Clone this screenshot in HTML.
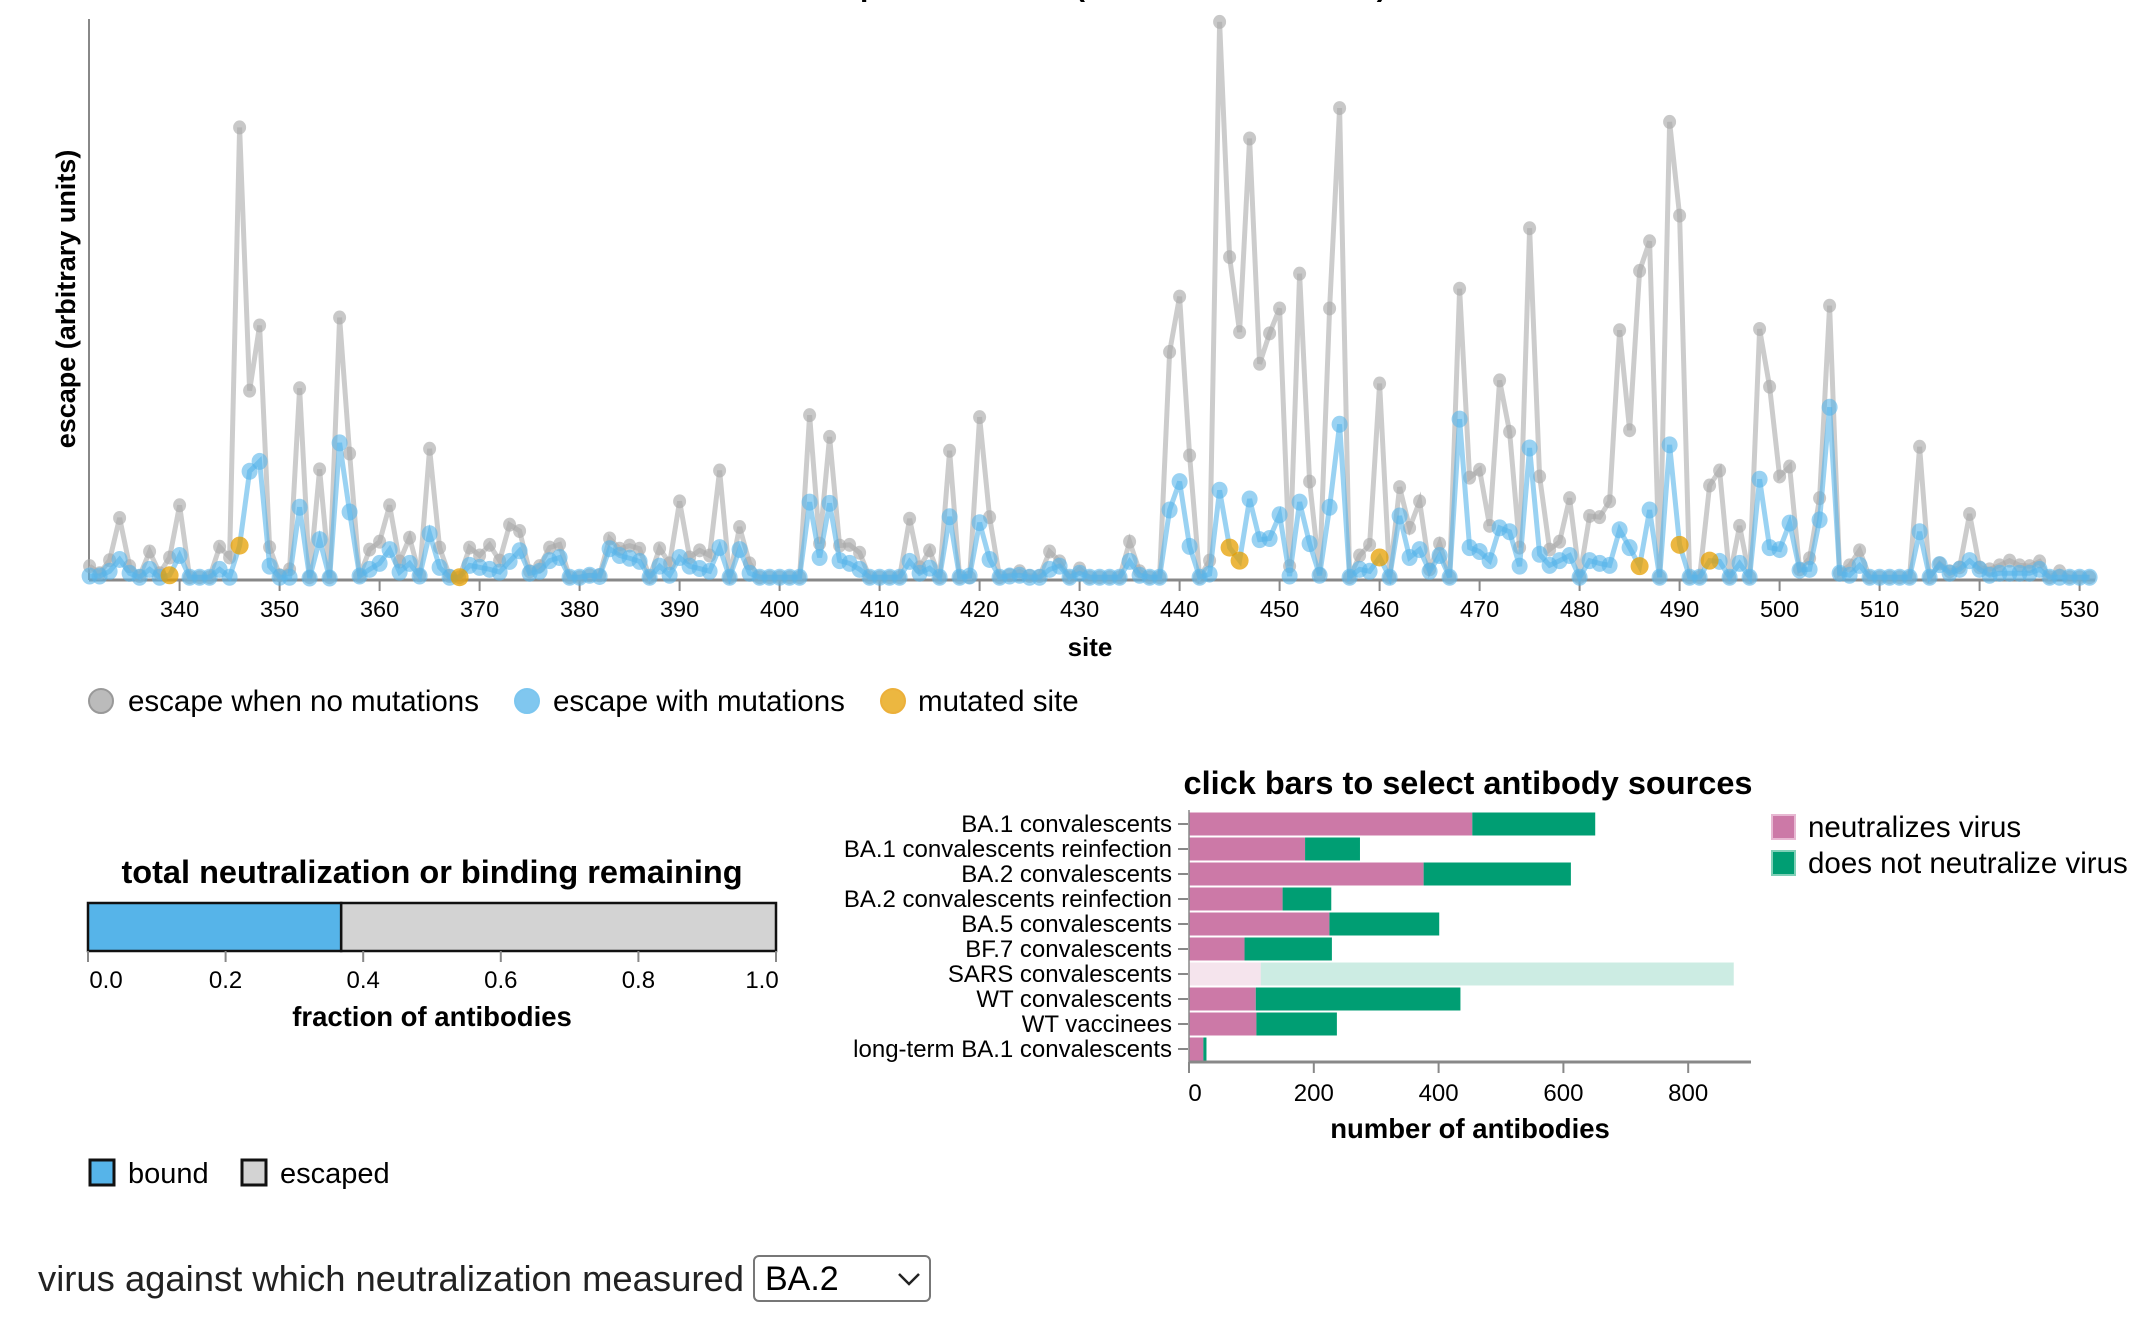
<!DOCTYPE html>
<html>
<head>
<meta charset="utf-8">
<style>
  html,body{margin:0;padding:0;background:#fff;}
  body{width:2150px;height:1316px;position:relative;overflow:hidden;font-family:"Liberation Sans",Arial,sans-serif;}
  svg text{font-family:"Liberation Sans",Arial,sans-serif;}
  #virus-label{position:absolute;left:38px;top:1257px;font-size:36.4px;color:#222;line-height:44px;}
  #virus-select{position:absolute;left:753px;top:1255px;width:178px;height:47px;border:2px solid #777;border-radius:6px;background:#fff;font-size:34px;font-family:"Liberation Sans",Arial,sans-serif;padding:0 0 0 10px;box-sizing:border-box;appearance:none;-webkit-appearance:none;color:#000;}
  #chev{position:absolute;left:897px;top:1271px;pointer-events:none;}
</style>
</head>
<body>
<svg id="main" width="2150" height="1316" xmlns="http://www.w3.org/2000/svg">
  <text x="1090" y="-4" text-anchor="middle" font-size="30" font-weight="bold">escape at each site (sum over antibodies)</text>
  <g id="line-chart"></g>
  <g id="legend">
    <circle cx="101" cy="701" r="12" fill="#aaa" fill-opacity="0.8" stroke="#999" stroke-width="2"/>
    <text x="128" y="711" font-size="29.5">escape when no mutations</text>
    <circle cx="527" cy="701" r="12" fill="#56B4E9" fill-opacity="0.75" stroke="#7cc6ef" stroke-width="2"/>
    <text x="553" y="711" font-size="29.5">escape with mutations</text>
    <circle cx="893" cy="701" r="12" fill="#E69F00" fill-opacity="0.75" stroke="#ecb03a" stroke-width="2"/>
    <text x="918" y="711" font-size="29.5">mutated site</text>
  </g>
  <g id="frac-chart"></g>
  <g id="src-chart"></g>
</svg>
<div id="virus-label">virus against which neutralization measured</div>
<select id="virus-select">
  <option>BA.2</option><option>BA.1</option><option>BA.5</option><option>XBB</option>
</select>
<svg id="chev" width="24" height="16"><polyline points="2,3 12,13 22,3" fill="none" stroke="#222" stroke-width="2.5"/></svg>

<script>
const NS = "http://www.w3.org/2000/svg";
const siteStart = 331;
const siteEnd = 531;
const escapeNoMut = [
35,17,50,157,35,10,72,17,57,189,
7,7,7,84,57,1145,479,644,83,12,
27,485,7,280,7,664,320,10,77,97,
189,47,107,12,332,82,10,7,82,62,
89,49,140,124,22,35,82,90,7,7,
12,12,105,79,87,79,7,80,42,199,
57,75,62,277,7,134,42,7,7,7,
7,7,417,92,362,87,89,69,7,7,
7,7,155,32,75,7,327,7,7,412,
159,7,12,22,10,10,72,47,7,29,
7,7,7,7,97,22,7,7,577,717,
315,7,49,1412,817,627,1117,547,624,687,
35,775,249,15,687,1194,7,62,89,497,
7,235,132,199,27,92,7,737,259,279,
137,505,375,82,890,262,77,97,207,7,
162,159,199,632,379,782,857,7,1159,922,
7,7,239,277,7,137,7,635,489,262,
287,27,55,207,694,17,37,75,7,7,
7,7,7,337,7,42,22,32,167,32,
27,37,49,37,35,47,7,22,7,7,
7];
const escapeWithMut = [
10,10,22,52,17,7,27,7,12,62,
7,7,7,27,7,87,275,300,35,7,
7,184,5,102,5,347,172,10,27,42,
77,20,42,10,117,32,7,7,37,32,
27,20,47,74,17,22,49,57,7,7,
12,9,79,62,55,47,7,35,12,57,
35,29,22,82,7,77,17,7,7,7,
7,7,197,57,194,49,42,27,7,7,
7,7,47,17,30,7,160,7,10,145,
52,7,10,12,7,7,27,35,7,17,
7,7,7,7,47,12,7,7,177,249,
85,7,15,227,82,49,205,102,105,165,
10,197,92,12,184,394,7,27,22,57,
7,162,57,77,22,62,7,407,82,72,
49,132,122,35,334,65,37,49,62,7,
49,42,37,127,82,35,177,7,342,89,
7,7,49,47,7,42,7,255,82,77,
144,25,27,152,437,17,12,37,7,7,
7,7,7,122,7,39,17,27,49,27,
12,17,17,17,17,27,7,7,7,7,
7];
const mutatedSites = [339,346,368,445,446,460,486,490,493];
const siteTicks = [340,350,360,370,380,390,400,410,420,430,440,450,460,470,480,490,500,510,520,530];

const sourceNames = ["BA.1 convalescents","BA.1 convalescents reinfection","BA.2 convalescents","BA.2 convalescents reinfection","BA.5 convalescents","BF.7 convalescents","SARS convalescents","WT convalescents","WT vaccinees","long-term BA.1 convalescents"];
const neutralizing = [454,186,376,150,225,89,115,107,108,23];
const nonNeutralizing = [197,88,236,78,176,140,758,328,129,5];
const sourceSelected = [true,true,true,true,true,true,false,true,true,true];
const countTicks = [0,200,400,600,800];

const boundFraction = [0.368];
const fracTicks = [0.0,0.2,0.4,0.6,0.8,1.0];

function mk(tag, attrs, parent){const e=document.createElementNS(NS,tag);for(const k in attrs)e.setAttribute(k,attrs[k]);parent.appendChild(e);return e;}

// ---- line chart ----
const lc = document.getElementById('line-chart');
const xSite = s => 179.6 + (s - 340) * 10.0;
const yEsc = v => 580 - v / 2.53;
let ax = mk('line',{x1:89,y1:19,x2:89,y2:580,stroke:'#888','stroke-width':2},lc);


let xax = mk('line',{x1:89,y1:580,x2:2095,y2:580,stroke:'#888','stroke-width':3},lc);


siteTicks.forEach(t=>{
  const tk = mk('line',{x1:xSite(t),y1:580,x2:xSite(t),y2:591,stroke:'#888','stroke-width':2},lc);
  
  
  const tl = mk('text',{x:xSite(t),y:617,'text-anchor':'middle','font-size':23.5},lc);
  
  
  tl.textContent = t;
});
let xt = mk('text',{x:1090,y:656,'text-anchor':'middle','font-size':26,'font-weight':'bold'},lc);


xt.textContent='site';
let yt = mk('text',{x:0,y:0,'text-anchor':'middle','font-size':27,'font-weight':'bold',transform:'translate(75,299) rotate(-90)'},lc);


yt.textContent='escape (arbitrary units)';

const sites = escapeNoMut.map((_,i)=>siteStart+i);
const grayPts = sites.map((s,i)=>xSite(s)+','+yEsc(escapeNoMut[i])).join(' ');
const bluePts = sites.map((s,i)=>xSite(s)+','+yEsc(escapeWithMut[i])).join(' ');
let gl = mk('polyline',{points:grayPts,fill:'none',stroke:'#cccccc','stroke-width':5,'stroke-linejoin':'miter'},lc);


sites.forEach((s,i)=>{
  const c = mk('ellipse',{cx:xSite(s),cy:yEsc(escapeNoMut[i]),rx:6.5,ry:7,fill:'#aaaaaa','fill-opacity':0.65},lc);
  
  
});
let bl = mk('polyline',{points:bluePts,fill:'none',stroke:'#56B4E9','stroke-opacity':0.6,'stroke-width':5},lc);


sites.forEach((s,i)=>{
  if (mutatedSites.includes(s)) return;
  const c = mk('ellipse',{cx:xSite(s),cy:yEsc(escapeWithMut[i]),rx:8,ry:8.5,fill:'#56B4E9','fill-opacity':0.6},lc);
  
  
});
mutatedSites.forEach(s=>{
  const i = s - siteStart;
  const c = mk('ellipse',{cx:xSite(s),cy:yEsc(escapeWithMut[i]),rx:9,ry:9,fill:'#E69F00','fill-opacity':0.75},lc);
  
  
});

// ---- fraction bar ----
const fc = document.getElementById('frac-chart');
const xFrac = v => 88 + v * 688;
let ft = mk('text',{x:432,y:883,'text-anchor':'middle','font-size':32.5,'font-weight':'bold'},fc);


ft.textContent='total neutralization or binding remaining';
let rb = mk('rect',{x:xFrac(0),y:903,width:xFrac(boundFraction[0])-xFrac(0),height:48,fill:'#56B4E9',stroke:'#111','stroke-width':2.5},fc);


let re = mk('rect',{x:xFrac(boundFraction[0]),y:903,width:xFrac(1)-xFrac(boundFraction[0]),height:48,fill:'#d3d3d3',stroke:'#111','stroke-width':2.5},fc);


fracTicks.forEach(t=>{
  const tk = mk('line',{x1:xFrac(t),y1:951,x2:xFrac(t),y2:962,stroke:'#888','stroke-width':2},fc);
  
  
  const tl = mk('text',{x:xFrac(t)+(t===0?18:(t===1?-14:0)),y:988,'text-anchor':'middle','font-size':24},fc);
  
  
  tl.textContent = t.toFixed(1);
});
let fx = mk('text',{x:432,y:1026,'text-anchor':'middle','font-size':27.5,'font-weight':'bold'},fc);


fx.textContent='fraction of antibodies';
let lb = mk('rect',{x:90,y:1160,width:24,height:25,fill:'#56B4E9',stroke:'#111','stroke-width':3},fc);


let lbt = mk('text',{x:128,y:1183,'font-size':29},fc);


lbt.textContent='bound';
let le = mk('rect',{x:242,y:1160,width:24,height:25,fill:'#d3d3d3',stroke:'#111','stroke-width':3},fc);


let let_ = mk('text',{x:280,y:1183,'font-size':29},fc);


let_.textContent='escaped';

// ---- source bar chart ----
const sc = document.getElementById('src-chart');
const xCnt = v => 1189 + v * 0.624;
const yRow = i => 824 + i * 25;
let st = mk('text',{x:1468,y:794,'text-anchor':'middle','font-size':32.5,'font-weight':'bold'},sc);


st.textContent='click bars to select antibody sources';
sourceNames.forEach((n,i)=>{
  const op = sourceSelected[i] ? 1 : 0.2;
  const r1 = mk('rect',{x:xCnt(0),y:yRow(i)-11.5,width:xCnt(neutralizing[i])-xCnt(0),height:23,fill:'#CC79A7','fill-opacity':op},sc);
  
  
  const r2 = mk('rect',{x:xCnt(neutralizing[i]),y:yRow(i)-11.5,width:xCnt(neutralizing[i]+nonNeutralizing[i])-xCnt(neutralizing[i]),height:23,fill:'#009E73','fill-opacity':op},sc);
  
  
  const tk = mk('line',{x1:1178,y1:yRow(i),x2:1188,y2:yRow(i),stroke:'#888','stroke-width':2},sc);
  
  
  const tl = mk('text',{x:1172,y:yRow(i)+8,'text-anchor':'end','font-size':24},sc);
  
  
  tl.textContent = n;
});
let sy = mk('line',{x1:1189,y1:810,x2:1189,y2:1062,stroke:'#888','stroke-width':1.5},sc);


let sx = mk('line',{x1:1189,y1:1062,x2:1751,y2:1062,stroke:'#888','stroke-width':3},sc);


countTicks.forEach(t=>{
  const tk = mk('line',{x1:xCnt(t),y1:1062,x2:xCnt(t),y2:1073,stroke:'#888','stroke-width':2},sc);
  
  
  const tl = mk('text',{x:xCnt(t)+(t===0?6:0),y:1101,'text-anchor':'middle','font-size':24},sc);
  
  
  tl.textContent = t;
});
let sxt = mk('text',{x:1470,y:1138,'text-anchor':'middle','font-size':27.5,'font-weight':'bold'},sc);


sxt.textContent='number of antibodies';
let lp = mk('rect',{x:1772,y:815,width:23,height:24,fill:'#CC79A7',stroke:'#e7b8d2','stroke-width':2},sc);


let lpt = mk('text',{x:1808,y:837,'font-size':29.5},sc);


lpt.textContent='neutralizes virus';
let lg = mk('rect',{x:1772,y:851,width:23,height:24,fill:'#009E73',stroke:'#7fd0b7','stroke-width':2},sc);


let lgt = mk('text',{x:1808,y:873,'font-size':29.5},sc);


lgt.textContent='does not neutralize virus';
</script>
</body>
</html>
